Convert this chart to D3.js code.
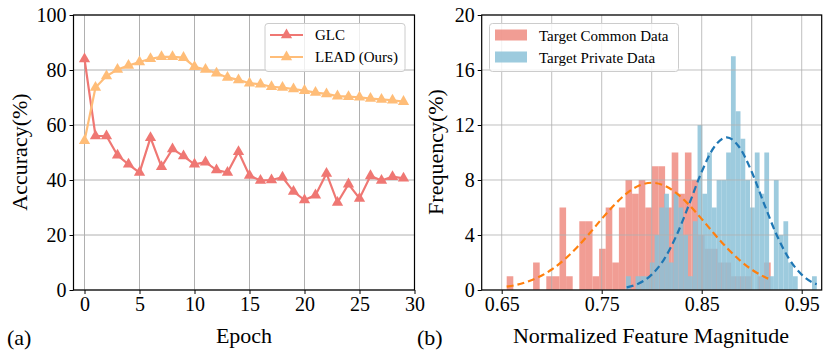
<!DOCTYPE html>
<html>
<head>
<meta charset="utf-8">
<script src="https://cdn.jsdelivr.net/npm/d3@7/dist/d3.min.js"></script>
<style>
  body { margin: 0; background: #fff; }
  text { font-family: "Liberation Serif", "Times New Roman", serif; fill: #000; }
</style>
</head>
<body>
<script>
// ---- data (a) ----
var epochs = [0,1,2,3,4,5,6,7,8,9,10,11,12,13,14,15,16,17,18,19,20,21,22,23,24,25,26,27,28,29];
var glcAcc = [84,56,56,49,45.7,42.7,55.4,44.8,51.3,48.7,45.7,46.5,43.6,42.7,50.3,41.6,39.8,40,41,35.8,32.7,34.5,42.4,31.8,38.5,33.3,41.5,39.8,41.2,40.6];
var leadAcc = [54.3,73.6,77.8,80.2,81.6,82.9,84.1,84.8,84.8,84.5,81.2,80.2,78.8,77.3,76.4,75.2,74.8,73.9,73.6,73.1,72.5,71.8,71.3,70.5,70.3,70.1,69.6,69.3,69,68.5];
var epochTicks = [0,5,10,15,20,25,30];
var accTicks = [0,20,40,60,80,100];

// ---- data (b) ----
var commonStart = 0.655, commonWidth = 0.0066;
var commonCounts = [1,0,0,0,2,0,1,1,6,1,0,5,5,1,3,6,2,6,8,7,8,6,9,9,6,10,7,10,8,4,3,3,2,2,1,1,1,0,1,2];
var privateStart = 0.7743, privateWidth = 0.00477;
var privateCounts = [1,0,1,1,1,2,4,6,7,2,7,6,4,1,5,12,7,10,6,8,8,10,17,13,11,8,6,10,7,10,1,8,4,5,2,1,0,0,0,1];
// fitted curves
var commonFitX = [0.655,0.6625,0.675,0.6875,0.70,0.7125,0.725,0.7375,0.75,0.7625,0.775,0.7875,0.80,0.8125,0.825,0.8375,0.85,0.8625,0.875,0.8875,0.90,0.9125,0.92];
var commonFitY = [0.24,0.34,0.59,0.96,1.49,2.2,3.08,4.09,5.17,6.18,7.03,7.6,7.8,7.6,7.03,6.18,5.17,4.09,3.08,2.2,1.49,0.96,0.72];
var privateFitX = [0.775,0.7875,0.80,0.8125,0.825,0.8375,0.85,0.8625,0.875,0.8875,0.90,0.9125,0.925,0.9375,0.95,0.9625,0.965];
var privateFitY = [0.19,0.49,1.12,2.25,4.0,6.25,8.6,10.4,11.1,10.4,8.6,6.25,4.0,2.25,1.12,0.49,0.42];
var magTicks = [0.65,0.75,0.85,0.95];
var magGrid = [0.65,0.70,0.75,0.80,0.85,0.90,0.95];
var freqTicks = [0,4,8,12,16,20];

var svgC = d3.select("body").append("svg").attr("width", 829).attr("height", 357);

var gridColor = "#b0b0b0";

// helper for plain text
function label(x, y, str, size, anchor, rot) {
  var t = svgC.append("text")
    .attr("transform", "translate(" + x + "," + y + ")" + (rot ? " rotate(" + rot + ")" : ""))
    .attr("text-anchor", anchor || "start")
    .style("font-size", size + "px")
    .text(str);
  return t;
}

// ================= (a) =================
var xA = d3.scaleLinear().domain([-1, 30]).range([73.5, 414.5]);
var yA = d3.scaleLinear().domain([0, 100]).range([290, 15]);

var gA = svgC.append("g");

// grid
gA.selectAll(".vg").data(epochTicks).enter().append("line")
  .attr("x1", d => xA(d)).attr("x2", d => xA(d))
  .attr("y1", yA(0)).attr("y2", yA(100))
  .attr("stroke", gridColor).attr("stroke-width", 1);
gA.selectAll(".hg").data(accTicks).enter().append("line")
  .attr("x1", xA(-1)).attr("x2", xA(30))
  .attr("y1", d => yA(d)).attr("y2", d => yA(d))
  .attr("stroke", gridColor).attr("stroke-width", 1);

// axes
var axA = gA.append("g").attr("transform", "translate(0," + yA(0) + ")")
  .call(d3.axisBottom(xA).tickValues(epochTicks).tickSize(4).tickPadding(3).tickFormat(d3.format("d")));
var ayA = gA.append("g").attr("transform", "translate(" + xA(-1) + ",0)")
  .call(d3.axisLeft(yA).tickValues(accTicks).tickSize(4).tickPadding(3));
[axA, ayA].forEach(function (a) {
  a.select(".domain").remove();
  a.selectAll("text").style("font-size", "20px").style("font-family", "Liberation Serif");
});

// lines
var lineA = function (vals) {
  return d3.line().x((d, i) => xA(epochs[i])).y(d => yA(d))(vals);
};
var seriesA = [
  { name: "GLC", vals: glcAcc, color: "#EF7773" },
  { name: "LEAD (Ours)", vals: leadAcc, color: "#FFBD78" }
];
seriesA.forEach(function (s) {
  gA.append("path").attr("d", lineA(s.vals))
    .attr("fill", "none").attr("stroke", s.color).attr("stroke-width", 2.2);
  gA.selectAll(null).data(s.vals).enter().append("path")
    .attr("d", d3.symbol(d3.symbolTriangle, 55))
    .attr("transform", (d, i) => "translate(" + xA(epochs[i]) + "," + yA(d) + ")")
    .attr("fill", s.color);
});

// frame
gA.append("rect").attr("x", xA(-1)).attr("y", yA(100))
  .attr("width", xA(30) - xA(-1)).attr("height", yA(0) - yA(100))
  .attr("fill", "none").attr("stroke", "#000").attr("stroke-width", 1.2);

// legend (a)
gA.append("rect").attr("x", 265).attr("y", 23.5).attr("width", 140).attr("height", 48).attr("rx", 3)
  .attr("fill", "#fff").attr("fill-opacity", 0.8).attr("stroke", "#cccccc");
seriesA.forEach(function (s, i) {
  var ly = 35 + i * 22;
  gA.append("line").attr("x1", 270).attr("x2", 303).attr("y1", ly).attr("y2", ly)
    .attr("stroke", s.color).attr("stroke-width", 2.2);
  gA.append("path").attr("d", d3.symbol(d3.symbolTriangle, 55))
    .attr("transform", "translate(286.5," + ly + ")").attr("fill", s.color);
  label(315, ly + 5, s.name, 15);
});

label(244, 343, "Epoch", 22, "middle");
label(27, 152, "Accuracy(%)", 22, "middle", -90);
label(7, 345, "(a)", 22);

// ================= (b) =================
var xB = d3.scaleLinear().domain([0.63, 0.97]).range([481.7, 821.7]);
var yB = d3.scaleLinear().domain([0, 20]).range([290, 15]);

var gB = svgC.append("g");

// bars
gB.selectAll(".cb").data(commonCounts).enter().append("rect")
  .attr("x", (d, i) => xB(commonStart + i * commonWidth))
  .attr("width", xB(commonStart + commonWidth) - xB(commonStart))
  .attr("y", d => yB(d)).attr("height", d => yB(0) - yB(d))
  .attr("fill", "#EE8579").attr("fill-opacity", 0.8);
gB.selectAll(".pb").data(privateCounts).enter().append("rect")
  .attr("x", (d, i) => xB(privateStart + i * privateWidth))
  .attr("width", xB(privateStart + privateWidth) - xB(privateStart))
  .attr("y", d => yB(d)).attr("height", d => yB(0) - yB(d))
  .attr("fill", "#8CC2D8").attr("fill-opacity", 0.85);

// grid (over the bars, like the reference)
gB.selectAll(".vg").data(magGrid).enter().append("line")
  .attr("x1", d => xB(d)).attr("x2", d => xB(d))
  .attr("y1", yB(0)).attr("y2", yB(20))
  .attr("stroke", gridColor).attr("stroke-width", 1).attr("stroke-opacity", 0.8);
gB.selectAll(".hg").data(freqTicks).enter().append("line")
  .attr("x1", xB(0.63)).attr("x2", xB(0.97))
  .attr("y1", d => yB(d)).attr("y2", d => yB(d))
  .attr("stroke", gridColor).attr("stroke-width", 1).attr("stroke-opacity", 0.8);

// fitted curves
var curveLine = d3.line().x(d => xB(d[0])).y(d => yB(d[1])).curve(d3.curveMonotoneX);
gB.append("path").attr("d", curveLine(d3.zip(commonFitX, commonFitY)))
  .attr("fill", "none").attr("stroke", "#FF7F0E").attr("stroke-width", 2.2).attr("stroke-dasharray", "7,4");
gB.append("path").attr("d", curveLine(d3.zip(privateFitX, privateFitY)))
  .attr("fill", "none").attr("stroke", "#1F77B4").attr("stroke-width", 2.2).attr("stroke-dasharray", "7,4");

// axes
var axB = gB.append("g").attr("transform", "translate(0," + yB(0) + ")")
  .call(d3.axisBottom(xB).tickValues(magTicks).tickSize(4).tickPadding(3).tickFormat(d3.format(".2f")));
var ayB = gB.append("g").attr("transform", "translate(" + xB(0.63) + ",0)")
  .call(d3.axisLeft(yB).tickValues(freqTicks).tickSize(4).tickPadding(3));
[axB, ayB].forEach(function (a) {
  a.select(".domain").remove();
  a.selectAll("text").style("font-size", "20px").style("font-family", "Liberation Serif");
});

gB.append("rect").attr("x", xB(0.63)).attr("y", yB(20))
  .attr("width", xB(0.97) - xB(0.63)).attr("height", yB(0) - yB(20))
  .attr("fill", "none").attr("stroke", "#000").attr("stroke-width", 1.2);

// legend (b)
gB.append("rect").attr("x", 489.5).attr("y", 23.5).attr("width", 189).attr("height", 48).attr("rx", 3)
  .attr("fill", "#fff").attr("fill-opacity", 0.8).attr("stroke", "#cccccc");
var legB = [
  { name: "Target Common Data", color: "#EE8579", op: 0.8 },
  { name: "Target Private Data", color: "#8CC2D8", op: 0.85 }
];
legB.forEach(function (s, i) {
  var ly = 29.5 + i * 22;
  gB.append("rect").attr("x", 495).attr("y", ly).attr("width", 32).attr("height", 11)
    .attr("fill", s.color).attr("fill-opacity", s.op);
  label(539, ly + 11, s.name, 15);
});

label(651, 343, "Normalized Feature Magnitude", 22, "middle");
label(443, 152, "Frequency(%)", 22, "middle", -90);
label(417, 345, "(b)", 22);
</script>
</body>
</html>
